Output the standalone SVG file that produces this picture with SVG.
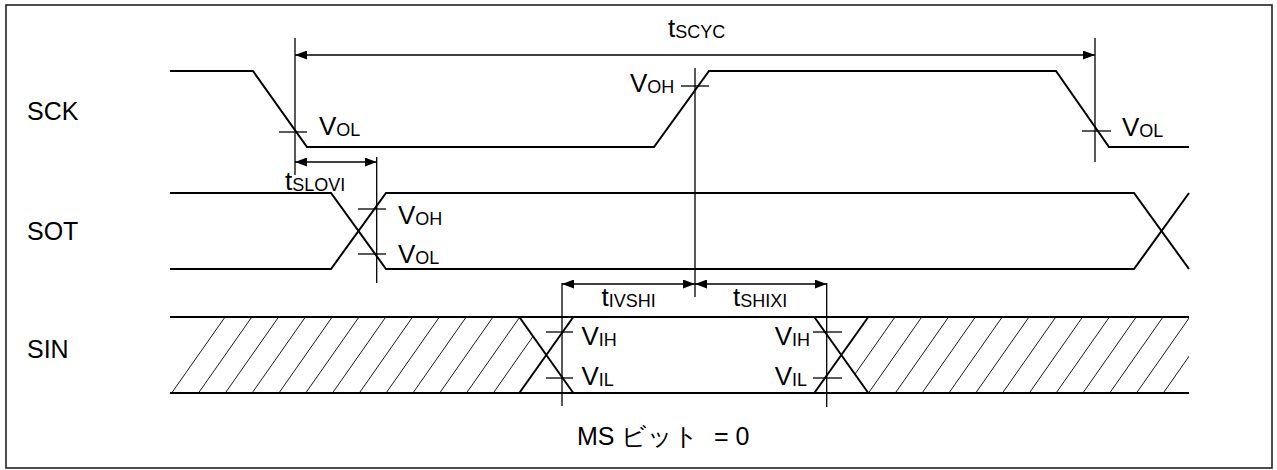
<svg xmlns="http://www.w3.org/2000/svg" width="1277" height="470" viewBox="0 0 1277 470">
<style>
.sig{stroke:#000;stroke-width:2;fill:none;stroke-linejoin:miter}
.thin{stroke:#000;stroke-width:1.3;fill:none}
.hatch{stroke:#000;stroke-width:0.9;fill:none}
text{font-family:"Liberation Sans",Arial,sans-serif;fill:#000;font-size:26px}
.lbl{font-size:25px}
.sub{font-size:18px}
</style>
<defs>
<marker id="ah" markerUnits="userSpaceOnUse" markerWidth="12" markerHeight="9" refX="12" refY="4.5" orient="auto-start-reverse">
<path d="M0,0 L12,4.5 L0,9 Z" fill="#000"/>
</marker>
<clipPath id="hclip">
<polygon points="170,317 519.3,317 546.3,355 519.3,393 170,393"/>
<polygon points="868.3,317 1189,317 1189,393 868.3,393 841.3,355"/>
</clipPath>
</defs>
<rect x="6" y="5" width="1266" height="463" fill="#fff" stroke="#222" stroke-width="1.6"/>

<g id="labels">
<text class="lbl" x="27" y="120">SCK</text>
<text class="lbl" x="27" y="240">SOT</text>
<text class="lbl" x="27" y="358">SIN</text>
<text class="lbl" x="577" y="445">MS ビット<tspan x="714">= 0</tspan></text>
</g>

<g id="sck">
<polyline class="sig" points="170,71 253,71 307,147 654,147 709,71 1056,71 1109,147 1189,147"/>
<line class="thin" x1="279" y1="132" x2="307" y2="132"/>
<line class="thin" x1="681" y1="86" x2="709" y2="86"/>
<line class="thin" x1="1082" y1="131" x2="1111" y2="131"/>
<text x="319" y="134.5">V<tspan class="sub" dy="1">OL</tspan></text>
<text x="630" y="91.5">V<tspan class="sub" dy="1">OH</tspan></text>
<text x="1122" y="136">V<tspan class="sub" dy="1">OL</tspan></text>
</g>

<g id="sot">
<polyline class="sig" points="170,193 331,193 386,269 1134,269 1189,193"/>
<polyline class="sig" points="170,269 331,269 386,193 1134,193 1189,269"/>
<line class="thin" x1="358" y1="209" x2="386" y2="209"/>
<line class="thin" x1="358" y1="254" x2="386" y2="254"/>
<text x="398" y="224">V<tspan class="sub" dy="1">OH</tspan></text>
<text x="398" y="262.5">V<tspan class="sub" dy="1">OL</tspan></text>
</g>

<g id="sin">
<g clip-path="url(#hclip)">
<path class="hatch" d="M171.7,393 l53.3,-76 M198.5,393 l53.3,-76 M225.3,393 l53.3,-76 M252.1,393 l53.3,-76 M278.9,393 l53.3,-76 M305.7,393 l53.3,-76 M332.5,393 l53.3,-76 M359.3,393 l53.3,-76 M386.1,393 l53.3,-76 M412.9,393 l53.3,-76 M439.7,393 l53.3,-76 M466.5,393 l53.3,-76 M493.3,393 l53.3,-76 M841.7,393 l53.3,-76 M868.5,393 l53.3,-76 M895.3,393 l53.3,-76 M922.1,393 l53.3,-76 M948.9,393 l53.3,-76 M975.7,393 l53.3,-76 M1002.5,393 l53.3,-76 M1029.3,393 l53.3,-76 M1056.1,393 l53.3,-76 M1082.9,393 l53.3,-76 M1109.7,393 l53.3,-76 M1136.5,393 l53.3,-76 M1163.3,393 l53.3,-76"/>
</g>
<line class="sig" x1="170" y1="317" x2="1189" y2="317"/>
<line class="sig" x1="170" y1="393" x2="1189" y2="393"/>
<line class="sig" x1="519.3" y1="317" x2="573.3" y2="393"/>
<line class="sig" x1="519.3" y1="393" x2="573.3" y2="317"/>
<line class="sig" x1="814.3" y1="317" x2="868.3" y2="393"/>
<line class="sig" x1="814.3" y1="393" x2="868.3" y2="317"/>
<line class="thin" x1="546" y1="332" x2="573" y2="332"/>
<line class="thin" x1="546" y1="378" x2="573" y2="378"/>
<line class="thin" x1="813" y1="332" x2="842" y2="332"/>
<line class="thin" x1="813" y1="378" x2="842" y2="378"/>
<text x="581.5" y="345">V<tspan class="sub" dy="1">IH</tspan></text>
<text x="581.5" y="385">V<tspan class="sub" dy="1">IL</tspan></text>
<text x="810" y="345" text-anchor="end">V<tspan class="sub" dy="1">IH</tspan></text>
<text x="807" y="385" text-anchor="end">V<tspan class="sub" dy="1">IL</tspan></text>
</g>

<g id="connectors">
<line class="thin" x1="295" y1="38" x2="295" y2="175"/>
<line class="thin" x1="1095" y1="38" x2="1095" y2="162"/>
<line class="thin" x1="695" y1="68" x2="695" y2="297"/>
<line class="thin" x1="376.7" y1="157" x2="376.7" y2="283"/>
<line class="thin" x1="562" y1="283" x2="562" y2="406"/>
<line class="thin" x1="826.7" y1="283" x2="826.7" y2="407"/>
<line class="thin" x1="295" y1="55" x2="1095" y2="55" marker-start="url(#ah)" marker-end="url(#ah)"/>
<line class="thin" x1="295" y1="162" x2="376.7" y2="162" marker-start="url(#ah)" marker-end="url(#ah)"/>
<line class="thin" x1="562" y1="284" x2="695" y2="284" marker-start="url(#ah)" marker-end="url(#ah)"/>
<line class="thin" x1="695" y1="284" x2="826.7" y2="284" marker-start="url(#ah)" marker-end="url(#ah)"/>
<text x="668" y="36.5">t<tspan class="sub" dy="1">SCYC</tspan></text>
<text x="285" y="190">t<tspan class="sub" dy="1">SLOVI</tspan></text>
<text x="601.5" y="306">t<tspan class="sub" dy="1">IVSHI</tspan></text>
<text x="733" y="306">t<tspan class="sub" dy="1">SHIXI</tspan></text>
</g>
</svg>
